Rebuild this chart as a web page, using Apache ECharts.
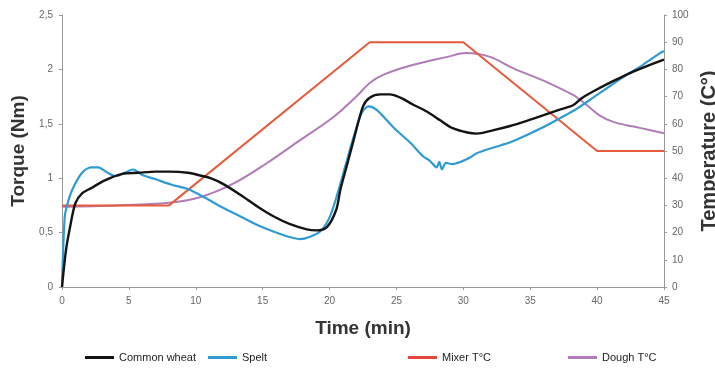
<!DOCTYPE html>
<html><head><meta charset="utf-8">
<script src="https://cdn.jsdelivr.net/npm/echarts@6/dist/echarts.min.js"></script>
<style>html,body{margin:0;padding:0;background:#fff}#c{width:715px;height:372px}</style>
</head><body><div id="c"></div>
<script>
const xTicks = [0,5,10,15,20,25,30,35,40,45];
const wheatTime = [0,0.3,0.6,1.0,1.5,2.2,3.2,4.5,5.7,7.0,8.0,9.4,10.5,11.1,12.0,13.3,14.6,15.8,17.0,18.3,19.0,19.8,20.5,20.8,21.3,21.8,22.5,23.0,23.8,24.5,25.3,26.2,27.3,28.3,29.2,30.3,31.0,32.2,33.5,34.8,36.0,37.2,38.2,38.9,40.2,41.5,42.7,43.9,45];
const wheatTorque = [0,0.34,0.55,0.77,0.86,0.91,0.98,1.04,1.05,1.06,1.06,1.05,1.02,1.0,0.95,0.85,0.74,0.65,0.58,0.53,0.52,0.55,0.71,0.89,1.12,1.35,1.66,1.74,1.77,1.77,1.74,1.68,1.61,1.53,1.46,1.42,1.41,1.44,1.48,1.53,1.58,1.63,1.67,1.74,1.83,1.91,1.98,2.04,2.09];
const speltTime = [0,0.2,0.4,0.75,1.5,2.2,2.7,3.4,4.0,4.7,5.3,6.0,7.0,8.2,9.4,10.7,12.0,13.3,14.6,15.8,17.0,17.8,18.5,19.3,20.0,20.6,21.2,21.8,22.4,22.9,23.5,24.3,25.0,26.0,27.0,27.5,28.0,28.2,28.4,28.7,29.2,29.8,30.5,31.0,32.2,33.5,34.8,36.0,37.2,38.5,39.7,41.0,42.2,43.4,44.7,45];
const speltTorque = [0,0.64,0.76,0.89,1.05,1.10,1.10,1.05,1.02,1.05,1.08,1.03,0.99,0.94,0.90,0.82,0.73,0.65,0.57,0.51,0.46,0.44,0.46,0.51,0.64,0.86,1.12,1.38,1.60,1.66,1.63,1.53,1.44,1.33,1.20,1.16,1.10,1.15,1.08,1.14,1.13,1.15,1.19,1.23,1.28,1.33,1.40,1.47,1.55,1.64,1.74,1.85,1.95,2.04,2.15,2.17];
const mixerTime = [0,8,23,30,40,45];
const mixerTemp = [30,30,90,90,50,50];
const doughTime = [0,4,8,10.3,12.8,15.3,17.8,20.3,22,23,24,26.2,28.8,30.2,32,33.7,36.2,38.2,39.2,40.2,41.2,42.2,43.2,45];
const doughTemp = [29.5,30,31,33,38,45.5,54,62.5,70,75,78,81.6,84.6,86,84.6,80.5,75.4,70.6,67,63,60.7,59.5,58.5,56.5];

const pair = (t, v) => t.map((x, i) => [x, v[i]]);
const FONT = 'Liberation Sans, Arial, sans-serif';
const axisLine = {show:true, lineStyle:{color:'#999', width:1}};
const lbl = {color:'#666', fontSize:10, fontFamily:FONT};
const nameStyle = (s) => ({color:'#333', fontSize:s, fontWeight:'bold', fontFamily:FONT});
const legendBase = (name, left) => ({
  data:[name], left:left, top:347, icon:'rect', itemWidth:29, itemHeight:3, itemGap:0,
  textStyle:{color:'#222', fontSize:11, fontFamily:FONT}, selectedMode:false
});

const chart = echarts.init(document.getElementById('c'), null, {renderer:'canvas'});
chart.setOption({
  animation:false,
  backgroundColor:'#fff',
  grid:{left:62, right:51, top:15, bottom:85, outerBoundsMode:'none', containLabel:false},
  legend:[legendBase('Common wheat',80), legendBase('Spelt',203), legendBase('Mixer T°C',403), legendBase('Dough T°C',563)],
  xAxis:{type:'value', min:0, max:45, interval:5, axisLine:axisLine,
    axisTick:{show:true, length:3, lineStyle:{color:'#999'}}, splitLine:{show:false},
    axisLabel:Object.assign({margin:9}, lbl),
    name:'Time (min)', nameLocation:'middle', nameGap:32, nameTextStyle:nameStyle(19)},
  yAxis:[
    {type:'value', min:0, max:2.5, interval:0.5, position:'left', axisLine:axisLine,
     axisTick:{show:true, length:3, lineStyle:{color:'#999'}}, splitLine:{show:false},
     axisLabel:Object.assign({margin:9, formatter:v => String(v).replace('.', ',')}, lbl),
     name:'Torque (Nm)', nameLocation:'middle', nameRotate:90, nameGap:30, nameTextStyle:nameStyle(19)},
    {type:'value', min:0, max:100, interval:10, position:'right', axisLine:axisLine,
     axisTick:{show:true, length:3, lineStyle:{color:'#999'}}, splitLine:{show:false},
     axisLabel:Object.assign({margin:8}, lbl),
     name:'Temperature (C°)', nameLocation:'middle', nameRotate:90, nameGap:31, nameTextStyle:nameStyle(20)}
  ],
  series:[
    {name:'Dough T°C', type:'line', yAxisIndex:1, data:pair(doughTime, doughTemp), showSymbol:false,
     smooth:0.35, lineStyle:{color:'#b07cb8', width:2}, itemStyle:{color:'#b07cb8'}},
    {name:'Mixer T°C', type:'line', yAxisIndex:1, data:pair(mixerTime, mixerTemp), showSymbol:false,
     lineStyle:{color:'#e85a3c', width:2}, itemStyle:{color:'#e8453c'}},
    {name:'Spelt', type:'line', yAxisIndex:0, data:pair(speltTime, speltTorque), showSymbol:false,
     smooth:0.3, lineStyle:{color:'#2f9bd0', width:2.2}, itemStyle:{color:'#2f9bd0'}},
    {name:'Common wheat', type:'line', yAxisIndex:0, data:pair(wheatTime, wheatTorque), showSymbol:false,
     smooth:0.3, lineStyle:{color:'#141414', width:2.4}, itemStyle:{color:'#141414'}}
  ]
});
</script></body></html>
